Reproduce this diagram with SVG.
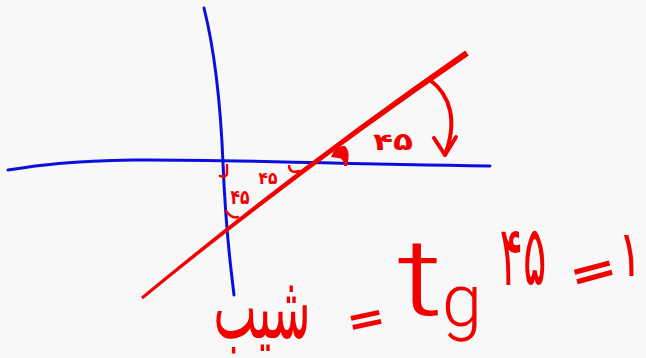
<svg xmlns="http://www.w3.org/2000/svg" width="646" height="358" viewBox="0 0 646 358">
<style>
.ax{fill:none;stroke:#0a0fe0;stroke-width:3;stroke-linecap:round;stroke-linejoin:round}
.pen{fill:none;stroke:#f20000;stroke-linecap:round;stroke-linejoin:round}
.hw{fill:#f20000;font-family:"DejaVu Sans","Noto Sans",sans-serif}
.sm{font-weight:bold}
.lat{fill:#f20000;font-family:Roboto,"Liberation Sans",sans-serif;font-weight:300}
.eq{fill:#f20000;font-family:Roboto,"Liberation Sans",sans-serif;font-weight:700}
</style>
<rect width="646" height="358" fill="#f8f8f8"/>
<g id="axes">
<path id="x-axis" class="ax" d="M8,170 C40,165 70,161 133,160 S300,163 490,166"/>
<path id="y-axis" class="ax" d="M204,8 C212,40 220,90 223,163 S230,260 234,295"/>
</g>
<g id="line">
<path fill="#f20000" d="M142.9,299.2 Q301.35,169.8 468.8,55.4 L465.2,50.6 Q298.65,166.2 141.1,296.8 Z"/>
</g>
<g id="angle-marks">
<path class="pen" stroke-width="2.5" d="M227,165 L227,174 Q226,178 220,176"/>
<path class="pen" stroke-width="2.5" d="M226,211 Q232,219 238,217"/>
<path class="pen" stroke-width="2.5" d="M289,166 Q290,174 299,171"/>
<path fill="#f20000" d="M331,157 Q335,145 345,146 Q351,151 347,166 L344,166 Q344,158 338,158 Z"/>
</g>
<g id="arrow">
<path class="pen" stroke-width="4" d="M430,80 C450,95 458,120 445,155"/>
<path class="pen" stroke-width="4" d="M434,138 L445,155 L456,137"/>
</g>
<g id="angle-labels">
<text class="hw sm" x="393" y="150" font-size="24" text-anchor="middle" textLength="40" lengthAdjust="spacingAndGlyphs">۴۵</text>
<text class="hw sm" x="268" y="184" font-size="17" text-anchor="middle" textLength="19" lengthAdjust="spacingAndGlyphs">۴۵</text>
<text class="hw sm" x="240" y="204" font-size="20" text-anchor="middle" textLength="19" lengthAdjust="spacingAndGlyphs">۴۵</text>
</g>
<g id="equation">
<text class="hw" transform="translate(262,338) scale(1,1.5)" x="0" y="0" font-size="60" text-anchor="middle" direction="rtl" textLength="97" lengthAdjust="spacingAndGlyphs">شیب</text>
<text class="eq" transform="translate(366,319) rotate(-12) scale(1.5,1)" x="0" y="15" font-size="44" text-anchor="middle">=</text>
<text class="lat" x="397" y="315" font-size="108"><tspan textLength="46" lengthAdjust="spacingAndGlyphs">t</tspan><tspan x="442" y="326" font-size="74" textLength="40" lengthAdjust="spacingAndGlyphs">g</tspan></text>
<text class="hw" transform="translate(523,285) scale(1,1.4)" x="0" y="0" font-size="60" text-anchor="middle" textLength="47" lengthAdjust="spacingAndGlyphs">۴۵</text>
<text class="eq" transform="translate(593,271) rotate(-15) scale(1.8,1)" x="0" y="16" font-size="46" text-anchor="middle">=</text>
<text class="hw" transform="translate(630,276) scale(1,1.4)" x="0" y="0" font-size="46" text-anchor="middle">۱</text>
</g>
</svg>
